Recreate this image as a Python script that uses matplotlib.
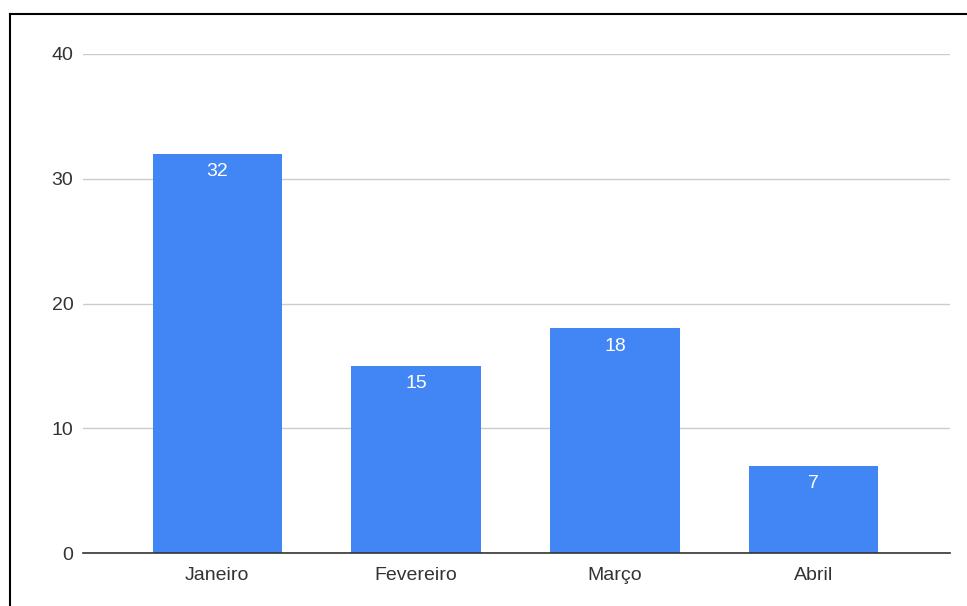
import matplotlib

matplotlib.use("Agg")
import matplotlib.pyplot as plt
from matplotlib.lines import Line2D

months = ["Janeiro", "Fevereiro", "Março", "Abril"]
counts = [32, 15, 18, 7]
y_ticks = [0, 10, 20, 30, 40]

BAR_COLOR = "#4285f4"
TEXT_COLOR = "#333333"

plt.rcParams["font.family"] = ["Liberation Sans", "DejaVu Sans"]

W, H, DPI = 967, 606, 100
fig = plt.figure(figsize=(W / DPI, H / DPI), dpi=DPI)
fig.patch.set_facecolor("white")
ax = fig.add_axes([83 / W, 1 - 553 / H, (950 - 83) / W, (553 - 54) / H])

x = list(range(len(months)))
bars = ax.bar(x, counts, width=0.65, color=BAR_COLOR, zorder=3)

for rect, value in zip(bars, counts):
    ax.annotate(
        str(value),
        xy=(rect.get_x() + rect.get_width() / 2, value),
        xytext=(0, -18),
        textcoords="offset pixels",
        ha="center",
        va="center",
        color="white",
        fontsize=14,
        zorder=4,
    )

ax.set_xlim(-0.675, 3.685)
ax.set_ylim(0, 40)
ax.set_yticks(y_ticks)
ax.set_xticks(x)
ax.set_xticklabels(months)
ax.tick_params(axis="both", length=0, labelsize=14, labelcolor=TEXT_COLOR)
ax.tick_params(axis="y", pad=7)
ax.tick_params(axis="x", pad=10)

ax.grid(axis="y", color="#cccccc", linewidth=1.0, zorder=0)
for side in ("top", "right", "left"):
    ax.spines[side].set_visible(False)
ax.spines["bottom"].set_color("#333333")
ax.spines["bottom"].set_linewidth(1.2)
ax.spines["bottom"].set_zorder(5)

# frame lines along the top and left edge of the image
fig.add_artist(Line2D([10 / W, 1], [1 - 14 / H, 1 - 14 / H], color="black", linewidth=1.5))
fig.add_artist(Line2D([10 / W, 10 / W], [0, 1 - 14 / H], color="black", linewidth=1.5))

fig.savefig("out.png", dpi=DPI)
